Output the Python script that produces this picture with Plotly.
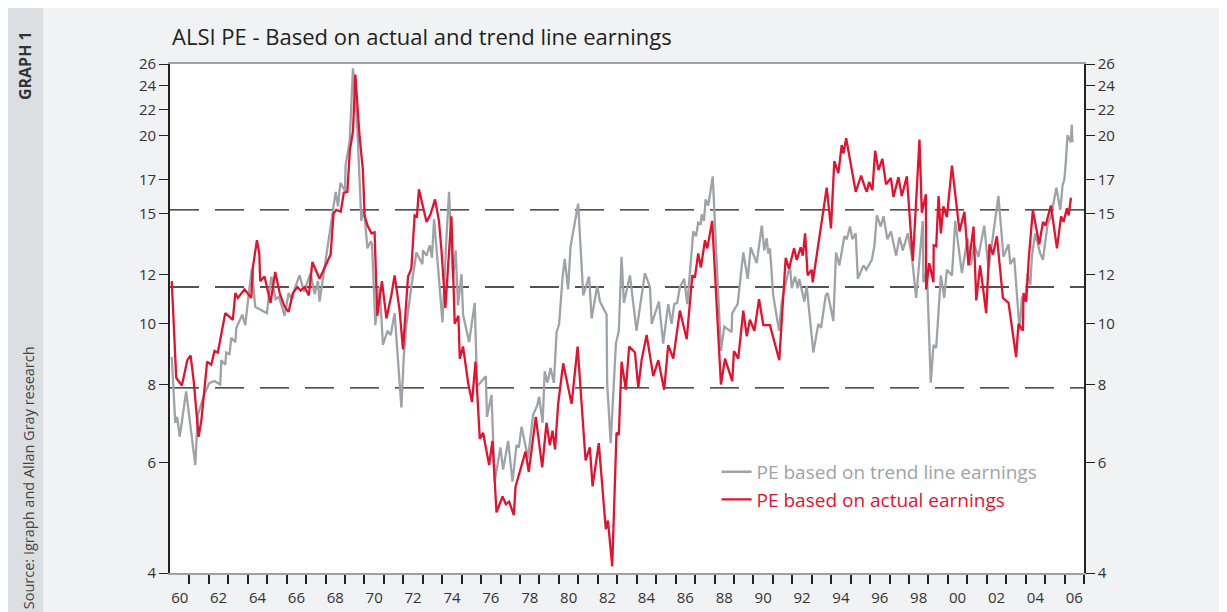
import plotly.graph_objects as go

# ALSI PE ratio (decimal years)
actual_years = [
    1960.09, 1960.32, 1960.61, 1960.89, 1961.06, 1961.22, 1961.47, 1961.61, 1961.91, 1962.12,
    1962.29, 1962.46, 1962.84, 1963.23, 1963.36, 1963.49, 1963.83, 1964.00, 1964.18, 1964.26,
    1964.47, 1964.59, 1964.64, 1964.86, 1965.17, 1965.41, 1965.64, 1965.89, 1966.10, 1966.32,
    1966.55, 1966.72, 1966.92, 1967.14, 1967.32, 1967.69, 1968.26, 1968.41, 1968.55, 1968.78,
    1968.94, 1969.12, 1969.25, 1969.41, 1969.53, 1969.75, 1969.92, 1970.01, 1970.18, 1970.36,
    1970.52, 1970.66, 1970.90, 1971.13, 1971.38, 1971.55, 1971.81, 1971.98, 1972.24, 1972.41,
    1972.58, 1972.70, 1972.80, 1973.19, 1973.39, 1973.63, 1973.83, 1973.96, 1974.16, 1974.47,
    1974.64, 1974.83, 1974.90, 1975.07, 1975.33, 1975.53, 1975.71, 1975.93, 1976.10, 1976.41,
    1976.58, 1976.79, 1977.10, 1977.27, 1977.44, 1977.68, 1977.77, 1978.28, 1978.45, 1978.81,
    1979.14, 1979.36, 1979.53, 1979.67, 1979.80, 1979.96, 1980.22, 1980.65, 1980.96, 1981.37,
    1981.59, 1981.73, 1982.05, 1982.41, 1982.52, 1982.74, 1982.96, 1983.08, 1983.22, 1983.44,
    1983.61, 1983.91, 1984.08, 1984.25, 1984.51, 1984.85, 1985.11, 1985.41, 1985.62, 1985.88,
    1986.22, 1986.57, 1986.86, 1986.99, 1987.16, 1987.30, 1987.51, 1987.63, 1987.88, 1988.33,
    1988.54, 1988.91, 1989.00, 1989.22, 1989.48, 1989.66, 1989.82, 1990.05, 1990.29, 1990.51,
    1990.85, 1991.33, 1991.66, 1991.83, 1992.09, 1992.23, 1992.43, 1992.54, 1992.66, 1992.79,
    1993.00, 1993.05, 1993.77, 1993.99, 1994.16, 1994.37, 1994.54, 1994.63, 1994.77, 1995.26,
    1995.54, 1995.74, 1995.83, 1995.95, 1996.12, 1996.26, 1996.43, 1996.63, 1996.82, 1997.07,
    1997.20, 1997.46, 1997.63, 1997.89, 1998.20, 1998.54, 1998.66, 1998.87, 1998.88, 1999.04,
    1999.26, 1999.27, 1999.40, 1999.52, 1999.64, 1999.77, 1999.95, 2000.21, 2000.60, 2000.85,
    2001.06, 2001.32, 2001.46, 2001.66, 2001.97, 2002.14, 2002.32, 2002.52, 2002.83, 2003.12,
    2003.51, 2003.63, 2003.86, 2003.89, 2004.03, 2004.15, 2004.37, 2004.70, 2004.89, 2005.02,
    2005.30, 2005.61, 2005.82, 2005.95, 2006.12, 2006.21, 2006.33,
]
actual_pe = [
    11.7, 8.2, 7.97, 8.75, 8.9, 8.1, 6.6, 7.0, 8.7, 8.6,
    9.05, 9.0, 10.4, 10.15, 11.2, 11.0, 11.35, 11.2, 11.0, 12.3,
    13.6, 12.95, 11.7, 11.9, 10.8, 12.1, 11.2, 10.65, 10.45, 11.2,
    11.45, 11.3, 11.45, 11.1, 12.55, 11.8, 12.9, 15.0, 15.2, 15.1,
    16.2, 16.25, 18.95, 20.3, 25.0, 19.9, 17.6, 14.85, 14.3, 13.95,
    14.0, 10.3, 11.7, 10.2, 11.1, 11.95, 10.5, 9.1, 11.9, 12.25,
    14.9, 14.85, 16.4, 14.55, 14.95, 15.8, 14.6, 13.1, 10.6, 14.85,
    10.0, 10.3, 8.8, 9.2, 8.05, 7.5, 8.7, 6.55, 6.7, 5.95,
    6.5, 5.0, 5.3, 5.15, 5.2, 4.95, 5.5, 6.25, 5.8, 7.1,
    5.9, 6.95, 6.4, 6.75, 6.3, 7.45, 8.65, 7.45, 9.2, 6.05,
    6.35, 5.5, 6.45, 4.7, 4.85, 4.1, 6.7, 6.65, 8.7, 7.85,
    9.2, 9.0, 7.9, 8.75, 9.6, 8.25, 8.75, 7.85, 9.25, 8.8,
    10.5, 9.45, 11.95, 11.85, 12.95, 12.3, 13.6, 13.2, 14.6, 8.0,
    8.8, 8.1, 9.05, 8.8, 10.5, 9.55, 10.15, 9.75, 10.95, 9.95,
    9.95, 8.75, 12.75, 12.25, 13.2, 12.65, 13.25, 12.85, 13.95, 11.95,
    12.2, 11.65, 16.5, 14.2, 18.2, 17.4, 19.3, 18.7, 19.8, 16.25,
    17.25, 16.5, 16.25, 16.85, 16.35, 18.9, 17.6, 18.35, 16.7, 17.1,
    15.95, 17.15, 16.0, 17.2, 12.6, 19.7, 15.05, 16.1, 11.35, 12.5,
    11.65, 13.35, 13.3, 16.0, 13.95, 15.4, 14.8, 17.9, 14.05, 15.1,
    12.4, 14.3, 10.9, 12.4, 10.4, 13.4, 12.9, 13.8, 11.0, 10.8,
    8.85, 10.0, 9.75, 11.2, 10.85, 12.6, 15.2, 13.4, 14.55, 14.35,
    15.45, 13.2, 14.85, 14.55, 15.3, 14.9, 15.9,
]

trend_years = [
    1960.09, 1960.27, 1960.37, 1960.50, 1960.83, 1961.30, 1961.43, 1961.78, 1962.03, 1962.29,
    1962.58, 1962.64, 1962.84, 1962.89, 1963.06, 1963.15, 1963.36, 1963.41, 1963.72, 1963.87,
    1964.04, 1964.21, 1964.38, 1964.98, 1965.21, 1965.43, 1965.60, 1965.89, 1966.10, 1966.27,
    1966.44, 1966.66, 1966.89, 1967.23, 1967.44, 1967.61, 1967.69, 1968.07, 1968.52, 1968.64,
    1968.76, 1969.00, 1969.03, 1969.24, 1969.41, 1969.63, 1969.84, 1969.92, 1970.01, 1970.15,
    1970.32, 1970.39, 1970.56, 1970.78, 1970.95, 1971.18, 1971.35, 1971.55, 1971.90, 1972.02,
    1972.16, 1972.41, 1972.67, 1972.98, 1973.01, 1973.19, 1973.36, 1973.47, 1973.58, 1973.78,
    1974.01, 1974.22, 1974.35, 1974.55, 1974.69, 1974.81, 1974.99, 1975.07, 1975.38, 1975.67,
    1975.79, 1976.24, 1976.30, 1976.53, 1976.70, 1976.99, 1977.13, 1977.39, 1977.61, 1977.82,
    1977.94, 1978.08, 1978.41, 1978.67, 1978.88, 1978.98, 1979.16, 1979.27, 1979.41, 1979.57,
    1979.74, 1979.88, 1980.01, 1980.19, 1980.30, 1980.47, 1980.60, 1980.99, 1981.25, 1981.55,
    1981.68, 1981.97, 1982.11, 1982.45, 1982.48, 1982.66, 1982.93, 1983.08, 1983.22, 1983.34,
    1983.65, 1983.99, 1984.42, 1984.68, 1984.77, 1985.14, 1985.36, 1985.62, 1985.79, 1985.93,
    1986.08, 1986.22, 1986.44, 1986.60, 1986.91, 1987.05, 1987.16, 1987.29, 1987.34, 1987.46,
    1987.54, 1987.68, 1987.91, 1988.06, 1988.33, 1988.50, 1988.88, 1988.91, 1989.19, 1989.48,
    1989.71, 1989.86, 1990.17, 1990.43, 1990.56, 1990.68, 1990.77, 1990.85, 1991.02, 1991.32,
    1991.46, 1991.88, 1991.97, 1992.14, 1992.28, 1992.36, 1992.62, 1992.74, 1993.08, 1993.34,
    1993.48, 1993.72, 1993.82, 1994.11, 1994.25, 1994.42, 1994.68, 1994.80, 1994.97, 1995.09,
    1995.26, 1995.37, 1995.66, 1995.80, 1996.09, 1996.22, 1996.35, 1996.55, 1996.69, 1996.89,
    1997.07, 1997.34, 1997.51, 1997.68, 1997.94, 1998.15, 1998.37, 1998.71, 1998.74, 1998.92,
    1999.12, 1999.26, 1999.40, 1999.64, 1999.81, 1999.95, 2000.21, 2000.38, 2000.72, 2001.01,
    2001.18, 2001.35, 2001.57, 2001.87, 2002.09, 2002.60, 2002.86, 2003.12, 2003.21, 2003.41,
    2003.69, 2003.81, 2003.98, 2004.10, 2004.24, 2004.32, 2004.49, 2004.75, 2004.89, 2005.13,
    2005.30, 2005.58, 2005.78, 2005.90, 2005.99, 2006.07, 2006.15, 2006.32, 2006.37, 2006.41,
]
trend_pe = [
    8.85, 6.95, 7.1, 6.6, 7.8, 5.95, 7.15, 7.75, 8.05, 8.1,
    8.0, 8.75, 8.6, 9.0, 8.95, 9.5, 9.35, 9.85, 10.35, 9.95,
    11.1, 12.25, 10.65, 10.4, 11.9, 10.95, 11.05, 10.3, 11.2, 10.95,
    11.45, 11.95, 11.25, 12.05, 11.15, 11.7, 10.85, 13.1, 16.25, 15.4,
    16.8, 16.3, 17.9, 19.6, 25.6, 20.6, 14.6, 15.2, 14.85, 13.2,
    13.55, 13.4, 9.95, 11.45, 9.25, 9.75, 9.6, 10.4, 7.35, 8.85,
    10.0, 11.45, 13.0, 12.45, 13.1, 12.85, 13.35, 12.75, 14.7, 12.35,
    10.05, 13.8, 16.25, 11.8, 13.1, 10.7, 12.0, 10.35, 9.35, 10.8,
    7.95, 8.25, 7.1, 7.7, 5.6, 6.35, 5.85, 6.5, 5.6, 6.4,
    6.35, 6.85, 6.1, 7.15, 7.4, 7.65, 6.95, 8.4, 8.05, 8.5,
    8.05, 9.7, 10.0, 11.9, 12.7, 11.35, 13.3, 15.55, 11.1, 11.9,
    10.2, 11.5, 10.85, 10.35, 8.05, 6.45, 9.3, 9.75, 12.8, 10.8,
    11.95, 9.75, 12.05, 11.45, 10.0, 10.85, 9.3, 10.75, 10.0, 10.75,
    10.8, 11.45, 11.8, 10.75, 14.05, 13.8, 14.5, 14.4, 14.95, 14.6,
    15.8, 15.45, 17.2, 13.65, 9.05, 9.9, 9.7, 10.4, 10.75, 13.0,
    11.8, 13.25, 12.5, 14.35, 13.1, 13.7, 12.95, 13.2, 11.1, 9.75,
    10.85, 12.45, 11.4, 11.9, 11.4, 11.8, 10.85, 11.5, 9.0, 10.0,
    9.85, 11.1, 11.2, 10.1, 13.0, 12.4, 13.8, 13.65, 14.3, 13.65,
    13.95, 11.8, 12.4, 12.2, 12.65, 13.3, 14.9, 14.3, 14.85, 13.65,
    14.05, 12.85, 13.75, 13.1, 13.95, 12.8, 11.0, 14.6, 11.65, 12.2,
    8.05, 9.25, 9.15, 11.95, 11.0, 12.2, 11.95, 14.6, 12.05, 13.7,
    12.4, 13.4, 12.8, 14.35, 12.25, 16.0, 12.8, 13.4, 12.45, 12.75,
    9.75, 11.05, 10.85, 12.05, 11.55, 12.8, 13.95, 12.95, 12.65, 14.45,
    14.8, 16.5, 15.2, 16.65, 17.0, 18.2, 20.0, 19.5, 20.8, 19.5,
]

band_levels = [7.9, 11.45, 15.2]
y_ticks = [4, 6, 8, 10, 12, 15, 17, 20, 22, 24, 26]
x_label_years = list(range(1960, 2007, 2))
x_tick_years = list(range(1961, 2008))

RED = "#e3122f"
GREY = "#9ea3a8"
FONT = "Open Sans, Noto Sans, Arial, sans-serif"

fig = go.Figure()
fig.add_trace(go.Scatter(
    x=trend_years, y=trend_pe, mode="lines",
    name=f"<span style='color:{GREY}'>PE based on trend line earnings</span>",
    line=dict(color=GREY, width=2.3),
))
fig.add_trace(go.Scatter(
    x=actual_years, y=actual_pe, mode="lines",
    name=f"<span style='color:{RED}'>PE based on actual earnings</span>",
    line=dict(color=RED, width=2.3),
))
# invisible trace to carry the right-hand axis
fig.add_trace(go.Scatter(x=[actual_years[0]], y=[actual_pe[0]], yaxis="y2",
                         mode="lines", line=dict(width=0), showlegend=False, hoverinfo="skip"))

for lvl in band_levels:
    fig.add_shape(type="line", xref="paper", x0=0, x1=1, yref="y", y0=lvl, y1=lvl,
                  line=dict(color="#1a1a1a", width=1.3, dash="29px,16px"), layer="below")

# side strip with rotated labels
fig.add_shape(type="rect", xref="paper", yref="paper", x0=-0.1783, x1=-0.1389, y0=-0.1, y1=1.2,
              fillcolor="#dcdfe2", line=dict(width=0), layer="below")
fig.add_annotation(text="<b>GRAPH 1</b>", xref="paper", yref="paper", x=-0.1586, y=0.996,
                   textangle=-90, showarrow=False, xanchor="center", yanchor="middle",
                   font=dict(family=FONT, size=16, color="#333"))
fig.add_annotation(text="Source: Igraph and Allan Gray research", xref="paper", yref="paper",
                   x=-0.1554, y=0.188, textangle=-90, showarrow=False,
                   xanchor="center", yanchor="middle",
                   font=dict(family=FONT, size=14.5, color="#444"))
fig.add_annotation(text="ALSI PE - Based on actual and trend line earnings", xref="paper",
                   yref="paper", x=0, y=1.022, xanchor="left", yanchor="bottom", showarrow=False,
                   font=dict(family=FONT, size=22, color="#222"))

yaxis_common = dict(
    type="log", range=[0.60206, 1.41497], tickvals=y_ticks, ticktext=[str(v) for v in y_ticks],
    ticks="outside", ticklen=9, tickwidth=1.3, tickcolor="#222", showgrid=False, zeroline=False,
    showline=True, linecolor="#222", linewidth=1.6,
    tickfont=dict(family=FONT, size=15, color="#333"),
)

fig.update_layout(
    width=1227, height=612,
    margin=dict(l=162, r=151, t=56, b=47),
    paper_bgcolor="#f1f2f4", plot_bgcolor="#ffffff",
    font=dict(family=FONT, color="#333"),
    xaxis=dict(
        range=[1960, 2007], tickvals=[y + 0.5 for y in x_label_years],
        ticktext=[f"{y % 100:02d}" for y in x_label_years],
        ticks="outside", ticklen=10, tickcolor="rgba(0,0,0,0)",
        minor=dict(tickmode="array", tickvals=x_tick_years, ticks="outside", ticklen=9,
                   tickwidth=1.5, tickcolor="#222", showgrid=False),
        showgrid=False, zeroline=False, showline=True, linecolor="#a0a0a0", linewidth=1.5,
        mirror=True, tickfont=dict(family=FONT, size=15, color="#333"),
    ),
    yaxis=yaxis_common,
    yaxis2=dict(yaxis_common, overlaying="y", side="right", matches="y"),
    legend=dict(x=0.598, y=0.236, xanchor="left", yanchor="top", bgcolor="rgba(0,0,0,0)",
                font=dict(family=FONT, size=19), itemwidth=30, tracegroupgap=0),
    showlegend=True,
)

fig.write_html("out.html")
